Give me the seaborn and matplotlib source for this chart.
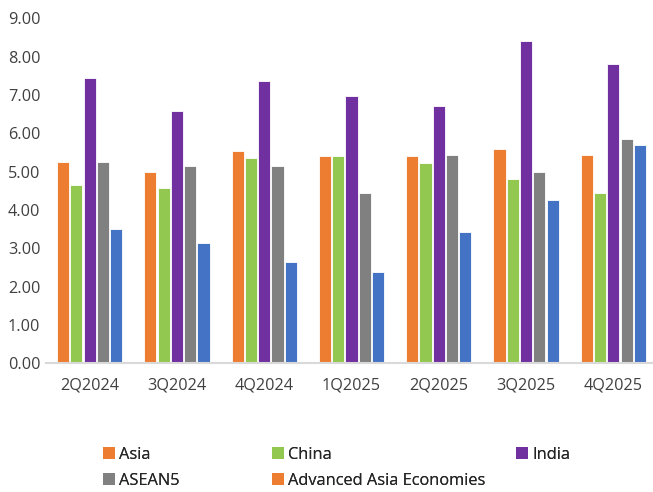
import matplotlib
matplotlib.use("Agg")
import matplotlib.pyplot as plt
from matplotlib.patches import Patch
import seaborn as sns
import pandas as pd

quarters = ["2Q2024", "3Q2024", "4Q2024", "1Q2025", "2Q2025", "3Q2025", "4Q2025"]
asia = [5.26, 4.98, 5.54, 5.42, 5.40, 5.58, 5.44]
china = [4.65, 4.57, 5.36, 5.40, 5.22, 4.80, 4.43]
india = [7.45, 6.58, 7.37, 6.97, 6.71, 8.41, 7.82]
asean5 = [5.26, 5.15, 5.15, 4.43, 5.43, 4.99, 5.84]
advanced = [3.50, 3.15, 2.65, 2.38, 3.42, 4.25, 5.70]

series_names = ["Asia", "China", "India", "ASEAN5", "Advanced Asia Economies"]
series_values = [asia, china, india, asean5, advanced]
y_ticks = [0, 1, 2, 3, 4, 5, 6, 7, 8, 9]

bar_colors = ["#ED7D31", "#92C850", "#7030A0", "#808080", "#4472C4"]
legend_colors = ["#ED7D31", "#92C850", "#7030A0", "#808080", "#ED7D31"]

rows = []
for name, vals in zip(series_names, series_values):
    for q, v in zip(quarters, vals):
        rows.append({"quarter": q, "series": name, "value": v})
df = pd.DataFrame(rows)

sns.set_theme(style="white")
plt.rcParams["font.family"] = ["Open Sans", "DejaVu Sans"]

fig = plt.figure(figsize=(6.53, 4.92), dpi=100)
ax = fig.add_axes([46 / 653, (492 - 363.3) / 492, 611 / 653, 345 / 492])

sns.barplot(
    data=df, x="quarter", y="value", hue="series",
    order=quarters, hue_order=series_names,
    palette=bar_colors, saturation=1, errorbar=None, width=0.76, gap=0.08,
    edgecolor="white", linewidth=0.6, legend=False, ax=ax,
)

ax.set_xlim(-0.5, len(quarters) - 0.5)
ax.set_ylim(0, 9)
ax.set_yticks(y_ticks)
ax.set_yticklabels([f"{t:.2f}" for t in y_ticks])
ax.set_xlabel("")
ax.set_ylabel("")

for side in ["top", "right", "left"]:
    ax.spines[side].set_visible(False)
ax.spines["bottom"].set_color("#D9D9D9")
ax.spines["bottom"].set_linewidth(1.5)

ax.tick_params(axis="y", direction="in", length=5, width=1.2, color="#D9D9D9",
               pad=4, labelsize=11.7, labelcolor="#404040")
ax.tick_params(axis="x", length=0, pad=10, labelsize=11.7, labelcolor="#404040")

# legend entries laid out in two rows
legend_pos = [(103, 455), (272, 455), (516, 455), (103, 481), (272, 481)]
for name, col, (px, py) in zip(series_names, legend_colors, legend_pos):
    lg = fig.legend(
        handles=[Patch(facecolor=col, edgecolor="none")], labels=[name],
        loc="center left", bbox_to_anchor=(px / 653, 1 - py / 492),
        frameon=False, handlelength=0.72, handleheight=0.72,
        handletextpad=0.25, borderpad=0, borderaxespad=0,
        prop={"size": 11.8},
    )
    for t in lg.get_texts():
        t.set_color("#262626")
    fig.add_artist(lg)

fig.savefig("out.png", dpi=100)
